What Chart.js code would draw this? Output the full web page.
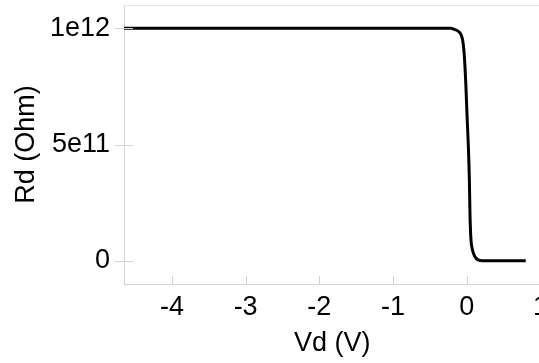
<!DOCTYPE html>
<html>
<head>
<meta charset="utf-8">
<script src="https://cdn.jsdelivr.net/npm/chart.js@4/dist/chart.umd.min.js"></script>
<style>
  html, body { margin: 0; padding: 0; background: #ffffff; overflow: hidden; width: 539px; height: 363px; }
  #wrap { position: absolute; left: 0; top: 0; width: 548px; height: 363px; }
</style>
</head>
<body>
<div id="wrap"><canvas id="c" width="548" height="363"></canvas></div>
<script>
// Data
const vd = [-4.65, -0.5, -0.21, -0.186, -0.095, -0.058, -0.037, -0.014, 0.004, 0.023, 0.035, 0.043, 0.054, 0.077, 0.109, 0.153, 0.22, 0.8];
const rd = [1e12, 1e12, 1e12, 0.997e12, 0.981e12, 0.953e12, 0.897e12, 0.767e12, 0.621e12, 0.478e12, 0.349e12, 0.207e12, 0.105e12, 0.047e12, 0.0185e12, 0.004e12, 0, 0];
const xTickValues = [-4, -3, -2, -1, 0, 1];
const xTickLabels = ['-4', '-3', '-2', '-1', '0', '1'];
const yTickValues = [0, 5e11, 1e12];
const yTickLabels = ['0', '5e11', '1e12'];
const xTitle = 'Vd (V)';
const yTitle = 'Rd (Ohm)';

const points = vd.map((v, i) => ({ x: v, y: rd[i] }));
const FONT = '"Liberation Sans", Arial, Helvetica, sans-serif';
const AXIS_COLOR = '#d4d4d4';

const tickMarks = {
  id: 'tickMarks',
  afterDraw(chart) {
    const ctx = chart.ctx;
    const a = chart.chartArea;
    const xs = chart.scales.x, ys = chart.scales.y;
    ctx.save();
    ctx.lineWidth = 1;
    ctx.strokeStyle = '#e6e6e6';
    ctx.beginPath();
    ctx.moveTo(a.left, Math.round(a.top) + 0.5);
    ctx.lineTo(chart.width, Math.round(a.top) + 0.5);
    ctx.stroke();
    ctx.strokeStyle = AXIS_COLOR;
    ctx.beginPath();
    yTickValues.forEach(v => {
      const p = Math.round(ys.getPixelForValue(v)) + 0.5;
      ctx.moveTo(a.left - 9, p);
      ctx.lineTo(a.left + 9, p);
    });
    xTickValues.forEach(v => {
      const p = Math.round(xs.getPixelForValue(v)) + 0.5;
      ctx.moveTo(p, a.bottom - 8);
      ctx.lineTo(p, a.bottom);
    });
    ctx.stroke();
    ctx.restore();
  }
};

new Chart(document.getElementById('c'), {
  type: 'scatter',
  data: {
    datasets: [{
      data: points,
      showLine: true,
      borderColor: '#000000',
      backgroundColor: '#000000',
      borderWidth: 3,
      pointRadius: 0,
      cubicInterpolationMode: 'monotone',
      fill: false
    }]
  },
  options: {
    responsive: false,
    animation: false,
    devicePixelRatio: 1,
    layout: { padding: { top: 5, left: 0, right: 0, bottom: 0 } },
    plugins: { legend: { display: false }, tooltip: { enabled: false } },
    scales: {
      x: {
        type: 'linear',
        min: -4.65,
        max: 1.0,
        afterBuildTicks(scale) { scale.ticks = xTickValues.map(v => ({ value: v })); },
        afterFit(scale) { scale.height = 79; scale.paddingLeft = 0; scale.paddingRight = 7.5; },
        ticks: {
          autoSkip: false,
          maxRotation: 0,
          padding: 7,
          color: '#000000',
          font: { family: FONT, size: 27, lineHeight: 1.2 },
          callback(value) { const i = xTickValues.indexOf(value); return i >= 0 ? xTickLabels[i] : ''; }
        },
        grid: { display: true, drawOnChartArea: false, drawTicks: false },
        border: { display: true, color: AXIS_COLOR, width: 1 },
        title: {
          display: true,
          text: xTitle,
          color: '#000000',
          font: { family: FONT, size: 27, lineHeight: 1.2 },
          padding: { top: 0, bottom: 3 }
        }
      },
      y: {
        type: 'linear',
        min: -1e11,
        max: 1.1e12,
        afterBuildTicks(scale) { scale.ticks = yTickValues.map(v => ({ value: v })); },
        afterFit(scale) { scale.width = 124; scale.paddingTop = 0; scale.paddingBottom = 0; },
        ticks: {
          padding: 14,
          color: '#000000',
          font: { family: FONT, size: 27, lineHeight: 1.2 },
          callback(value) { const i = yTickValues.indexOf(value); return i >= 0 ? yTickLabels[i] : ''; }
        },
        grid: { display: true, drawOnChartArea: false, drawTicks: false },
        border: { display: true, color: AXIS_COLOR, width: 1 },
        title: {
          display: true,
          text: yTitle,
          color: '#000000',
          font: { family: FONT, size: 27, lineHeight: 1.2 },
          padding: { top: 10, bottom: 0 }
        }
      }
    }
  },
  plugins: [tickMarks]
});
</script>
</body>
</html>
